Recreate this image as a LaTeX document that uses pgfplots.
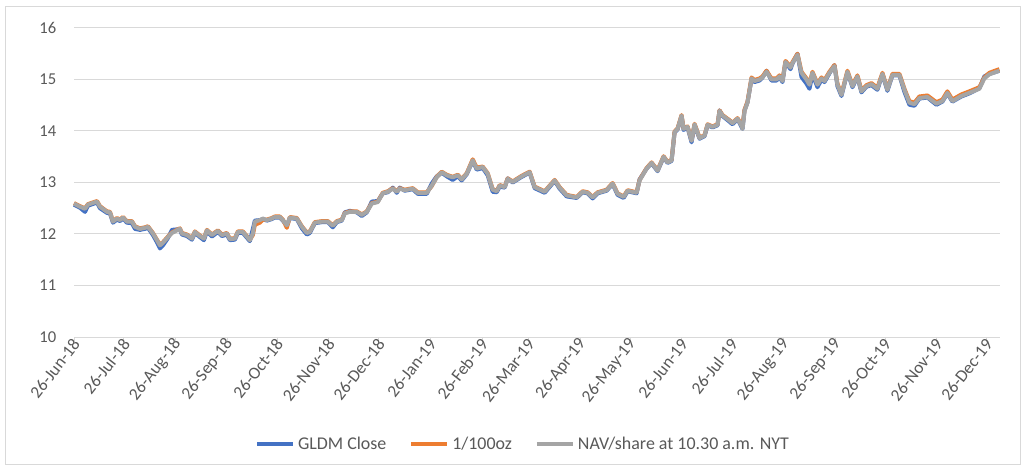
\documentclass[border=0pt]{standalone}
\usepackage{pgfplots}
\pgfplotsset{compat=1.18}
\usepackage{pgfplotstable}
\usepackage{fontspec}
\setmainfont{Carlito}
\definecolor{cblue}{HTML}{4472C4}
\definecolor{corange}{HTML}{ED7D31}
\definecolor{cgrey}{HTML}{A5A5A5}
\definecolor{ctext}{HTML}{595959}
\definecolor{cgrid}{HTML}{D9D9D9}
\pgfplotstableread{
d nav gldm oz
0 12.59 12.57 12.60
3.6 12.53 12.51 12.54
6.6 12.49 12.43 12.50
8.4 12.57 12.55 12.58
13.8 12.63 12.61 12.64
15.6 12.53 12.50 12.54
19.8 12.43 12.41 12.44
21.6 12.42 12.40 12.43
23.4 12.24 12.22 12.25
25.8 12.30 12.28 12.31
27.6 12.27 12.25 12.28
29.4 12.32 12.30 12.33
31.8 12.24 12.22 12.25
34.8 12.24 12.21 12.25
36.6 12.14 12.10 12.15
39.6 12.10 12.08 12.11
42.6 12.12 12.10 12.13
44.4 12.14 12.12 12.15
47.4 12.01 11.98 12.02
49.8 11.88 11.84 11.89
51.6 11.78 11.72 11.79
53.4 11.83 11.78 11.84
56.4 11.94 11.92 11.95
58.8 12.02 12.08 12.03
61.8 12.07 12.09 12.08
63.6 12.10 12.08 12.11
64.8 12.01 11.99 12.02
67.8 11.98 11.96 11.99
70.8 11.91 11.89 11.92
72.6 12.04 12.02 12.05
75.6 11.96 11.94 11.97
78 11.91 11.88 11.92
79.8 12.07 12.05 12.08
82.8 11.98 11.95 11.99
86.4 12.06 12.04 12.07
88.8 11.98 11.96 11.99
91.8 12.01 11.99 12.02
93.6 11.90 11.88 11.91
96.6 11.91 11.89 11.92
98.4 12.04 12.02 12.05
101.4 12.04 12.02 12.05
105.6 11.88 11.86 11.89
107.4 12.01 12.10 11.98
108.6 12.24 12.26 12.18
111.6 12.27 12.27 12.22
113.4 12.30 12.29 12.28
115.8 12.27 12.26 12.28
118.8 12.30 12.29 12.31
120.6 12.33 12.32 12.34
123.6 12.33 12.32 12.34
125.4 12.27 12.26 12.28
127.8 12.17 12.16 12.12
129.6 12.32 12.31 12.33
133.8 12.30 12.29 12.31
136.8 12.14 12.11 12.15
139.8 12.02 11.99 12.03
141.6 12.04 12.02 12.05
144.6 12.22 12.21 12.23
148.8 12.24 12.23 12.25
152.4 12.24 12.23 12.25
155.4 12.16 12.13 12.17
157.8 12.24 12.23 12.25
160.8 12.27 12.26 12.28
162.6 12.40 12.42 12.41
165.6 12.43 12.45 12.44
169.8 12.43 12.42 12.44
172.8 12.37 12.35 12.38
175.8 12.43 12.42 12.44
178.8 12.59 12.63 12.60
182.4 12.62 12.64 12.63
185.4 12.79 12.79 12.80
188.4 12.82 12.81 12.83
191.4 12.88 12.90 12.89
193.8 12.82 12.80 12.83
195.6 12.88 12.90 12.89
198.6 12.85 12.84 12.86
203.4 12.88 12.87 12.89
206.4 12.80 12.78 12.81
211.8 12.80 12.78 12.81
214.8 12.94 12.98 12.93
217.8 13.10 13.12 13.11
220.8 13.20 13.19 13.21
223.8 13.14 13.12 13.15
227.4 13.10 13.05 13.11
230.4 13.14 13.12 13.15
232.8 13.06 13.04 13.07
235.8 13.17 13.16 13.18
239.4 13.43 13.42 13.45
241.8 13.27 13.25 13.29
245.4 13.30 13.28 13.31
248.4 13.17 13.14 13.18
251.4 12.86 12.82 12.87
253.8 12.83 12.81 12.84
255.6 12.94 12.92 12.95
258.6 12.91 12.90 12.92
260.4 13.07 13.08 13.08
263.4 13.01 13.00 13.02
268.8 13.12 13.11 13.13
273.6 13.20 13.19 13.21
276.6 12.91 12.89 12.92
282.6 12.82 12.80 12.83
288.6 13.04 13.03 13.05
291.6 12.90 12.88 12.91
295.8 12.75 12.73 12.76
301.8 12.71 12.70 12.72
305.4 12.82 12.81 12.83
308.4 12.80 12.79 12.81
311.4 12.71 12.69 12.72
314.4 12.80 12.79 12.81
319.8 12.85 12.84 12.86
323.4 12.98 12.97 12.99
326.4 12.78 12.76 12.79
330 12.72 12.70 12.73
332.4 12.84 12.83 12.85
337.8 12.80 12.79 12.81
339.6 13.04 13.06 13.05
343.8 13.27 13.27 13.28
346.8 13.38 13.37 13.39
350.4 13.23 13.22 13.24
354 13.50 13.49 13.51
356.4 13.39 13.38 13.40
358.8 13.43 13.42 13.44
360.6 13.98 13.97 13.99
362.4 14.04 14.03 14.05
364.8 14.30 14.29 14.31
366 14.04 14.02 14.05
368.4 14.08 14.07 14.09
370.8 13.81 13.78 13.82
372.6 14.13 14.12 14.14
375.6 13.86 13.85 13.87
378.6 13.91 13.90 13.92
380.4 14.12 14.11 14.13
383.4 14.08 14.07 14.09
386.4 14.12 14.11 14.13
387.6 14.39 14.40 14.40
389.4 14.30 14.29 14.31
393.6 14.20 14.18 14.21
395.4 14.15 14.13 14.16
398.4 14.24 14.23 14.25
400.8 14.10 14.08 14.12
401.4 14.04 14.04 14.10
402.6 14.39 14.40 14.41
404.4 14.55 14.56 14.57
406.8 15.02 15.01 15.04
408.6 14.97 14.95 14.99
411.6 15.00 14.98 15.02
413.4 15.04 15.04 15.06
415.8 15.15 15.17 15.17
418.8 15.00 14.98 15.02
421.8 15.00 14.98 15.02
423.6 15.06 15.05 15.08
425.4 14.97 14.95 14.99
427.2 15.34 15.34 15.36
430.2 15.23 15.20 15.25
431.4 15.32 15.31 15.34
434.4 15.48 15.50 15.50
436.8 15.13 15.05 15.15
439.8 15.00 14.92 15.02
441.6 14.90 14.82 14.92
443.4 15.13 15.10 15.15
446.4 14.90 14.85 14.92
448.8 15.02 15.00 15.04
450.6 14.97 14.95 14.99
453.6 15.13 15.12 15.15
456.6 15.26 15.28 15.28
458.4 14.90 14.87 14.92
460.8 14.70 14.68 14.72
464.4 15.15 15.14 15.17
467.4 14.87 14.85 14.89
470.4 15.06 15.05 15.08
472.8 14.77 14.75 14.79
475.8 14.87 14.86 14.89
478.8 14.91 14.89 14.93
482.4 14.82 14.80 14.84
485.4 15.11 15.10 15.13
488.4 14.80 14.78 14.82
491.4 15.09 15.08 15.11
495.6 15.09 15.08 15.11
498.6 14.80 14.76 14.82
501.6 14.55 14.51 14.58
504.6 14.52 14.49 14.55
507.6 14.64 14.63 14.67
512.4 14.66 14.65 14.69
517.8 14.53 14.51 14.56
521.4 14.58 14.57 14.61
524.4 14.74 14.73 14.77
527.4 14.58 14.57 14.61
532.8 14.68 14.67 14.71
537.6 14.74 14.73 14.77
543.6 14.82 14.83 14.85
546.6 15.02 15.06 15.04
549.6 15.10 15.11 15.13
553.8 15.15 15.15 15.18
555.6 15.17 15.17 15.20
}\gold
\begin{document}
\begin{tikzpicture}
\path[use as bounding box] (0,0) rectangle (769.5bp,352.5bp);
\fill[white] (0,0) rectangle (769.5bp,352.5bp);
\draw[cgrid, line width=0.75bp] (3.75bp,3.75bp) rectangle (765bp,347.25bp);
\begin{axis}[
  at={(55.5bp,99.75bp)}, anchor=south west,
  scale only axis, width=694.5bp, height=231.75bp,
  xmin=0, xmax=556, ymin=10, ymax=16,
  ytick={10,11,12,13,14,15,16},
  xtick={0,30,61,92,122,153,183,214,245,273,304,334,365,395,426,457,487,518,548},
  xticklabels={26-Jun-18,26-Jul-18,26-Aug-18,26-Sep-18,26-Oct-18,26-Nov-18,26-Dec-18,26-Jan-19,26-Feb-19,26-Mar-19,26-Apr-19,26-May-19,26-Jun-19,26-Jul-19,26-Aug-19,26-Sep-19,26-Oct-19,26-Nov-19,26-Dec-19},
  axis x line*=bottom, axis y line*=left,
  y axis line style={draw=none},
  x axis line style={cgrid, line width=0.75bp},
  ytick style={draw=none},
  xtick style={cgrid, line width=0.75bp},
  tick align=outside,
  major tick length=3.75bp,
  ymajorgrids, major grid style={cgrid, line width=0.75bp},
  /pgf/number format/assume math mode=true,
  tick label style={font=\fontsize{12.5}{14}\selectfont, text=ctext},
  yticklabel style={xshift=-6bp},
  xticklabel style={font=\fontsize{13}{15}\selectfont, rotate=52, anchor=east, xshift=5bp, yshift=-1bp},
  legend style={at={(0.485,-0.346)}, anchor=center, draw=none, fill=none,
    font=\fontsize{13.5}{15}\selectfont, text=ctext,
    /tikz/every even column/.append style={column sep=15bp}},
  legend columns=-1,
  legend image code/.code={\draw[#1, line width=3.5bp] (0bp,0bp) -- (27bp,0bp);},
  clip=false,
]
\addplot[cblue, line width=3bp, line join=round] table[x=d, y=gldm] {\gold};
\addlegendentry{GLDM Close}
\addplot[corange, line width=3bp, line join=round] table[x=d, y=oz] {\gold};
\addlegendentry{1/100oz}
\addplot[cgrey, line width=3bp, line join=round] table[x=d, y=nav] {\gold};
\addlegendentry{NAV/share at 10.30 a.m. NYT}
\end{axis}
\end{tikzpicture}
\end{document}
